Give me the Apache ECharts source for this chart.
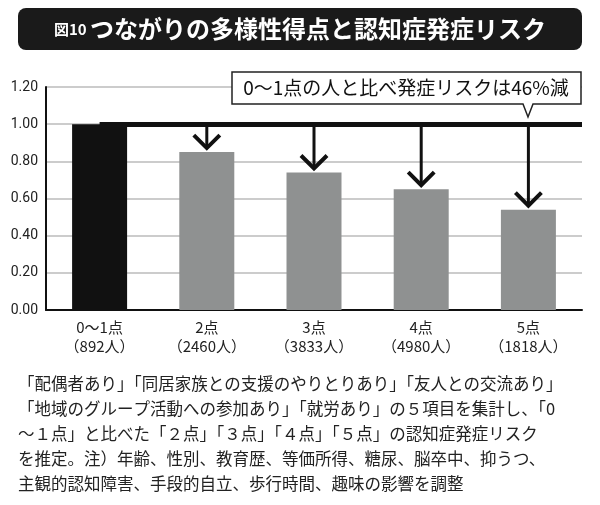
<!DOCTYPE html>
<html><head><meta charset="utf-8">
<script src="https://cdn.jsdelivr.net/npm/echarts@6/dist/echarts.min.js"></script>
<style>html,body{margin:0;background:#fff}#main{width:600px;height:505px}</style>
</head><body><div id="main"></div>
<script>
// データ
var categories = ['0～1点\n（892人）', '2点\n（2460人）', '3点\n（3833人）', '4点\n（4980人）', '5点\n（1818人）'];
var risk = [1.00, 0.85, 0.74, 0.65, 0.54];
var yTicks = ['0.00', '0.20', '0.40', '0.60', '0.80', '1.00', '1.20'];
var notes = [
  '「配偶者あり」「同居家族との支援のやりとりあり」「友人との交流あり」',
  '「地域のグループ活動への参加あり」「就労あり」の５項目を集計し、「0',
  '～１点」と比べた「２点」「３点」「４点」「５点」の認知症発症リスク',
  'を推定。注）年齢、性別、教育歴、等価所得、糖尿、脳卒中、抑うつ、',
  '主観的認知障害、手段的自立、歩行時間、趣味の影響を調整'
];
var FONT = '"Noto Sans CJK JP", sans-serif';

var chart = echarts.init(document.getElementById('main'));

var graphics = [
  { type: 'rect', shape: { x: 18, y: 8, width: 564, height: 42, r: 8 }, style: { fill: '#1a1a1a' } },
  { type: 'text', x: 300, y: 29, style: { rich: { s: { fontSize: 15, fill: '#fff', fontFamily: FONT, fontWeight: 'bold' }, b: { fontSize: 24, fill: '#fff', fontFamily: FONT, fontWeight: 'bold' } }, text: '{s|図10 }{b|つながりの多様性得点と認知症発症リスク}', align: 'center', verticalAlign: 'middle' } },
  { type: 'polygon', shape: { points: [[232, 72], [581, 72], [581, 104], [533, 104], [528, 117], [523, 104], [232, 104]] }, style: { fill: '#fff', stroke: '#222', lineWidth: 1.5 }, z: 10 },
  { type: 'text', x: 406, y: 88, z: 11, style: { text: '0～1点の人と比べ発症リスクは46%減', fontSize: 19, fontFamily: FONT, fill: '#111', align: 'center', verticalAlign: 'middle' } }
];
notes.forEach(function (t, i) {
  graphics.push({ type: 'text', left: 18, top: 375 + i * 25, style: { text: t, fontSize: 16.5, fontFamily: FONT, fill: '#222' } });
});

chart.setOption({
  animation: false,
  grid: { left: 46, right: 18, top: 87, bottom: 195 },
  xAxis: {
    type: 'category', data: categories,
    axisLine: { lineStyle: { color: '#111', width: 2 } },
    axisTick: { show: false },
    axisLabel: { color: '#222', fontSize: 15, fontFamily: FONT, lineHeight: 19, margin: 8 }
  },
  yAxis: {
    type: 'value', min: 0, max: 1.2, interval: 0.2,
    axisLine: { show: true, lineStyle: { color: '#111', width: 2 } },
    axisLabel: { color: '#222', fontSize: 14, fontFamily: 'Roboto, sans-serif', formatter: function (v) { return yTicks[Math.round(v / 0.2)]; } },
    splitLine: { lineStyle: { color: '#ccc', width: 2 } }
  },
  series: [{
    type: 'bar', data: risk.map(function (v, i) { return { value: v, itemStyle: { color: i === 0 ? '#111' : '#8f9191' } }; }),
    barWidth: 55,
    markLine: { symbol: 'none', silent: true, label: { show: false }, lineStyle: { color: '#111', width: 5, type: 'solid' }, data: [[{ coord: [0, 1] }, { x: 582, yAxis: 1 }]] }
  }, {
    type: 'custom', data: risk.map(function (v, i) { return [i, v]; }),
    renderItem: function (params, api) {
      var i = api.value(0);
      if (i === 0) return;
      var top = api.coord([i, 1]);
      var end = api.coord([i, api.value(1)]);
      var tip = end[1] - 4;
      return { type: 'group', children: [
        { type: 'line', shape: { x1: top[0], y1: top[1], x2: top[0], y2: tip }, style: { stroke: '#111', lineWidth: 3 } },
        { type: 'polyline', shape: { points: [[top[0] - 13, tip - 13], [top[0], tip], [top[0] + 13, tip - 13]] }, style: { stroke: '#111', lineWidth: 4, fill: null } }
      ] };
    }
  }],
  graphic: graphics
});
</script></body></html>
